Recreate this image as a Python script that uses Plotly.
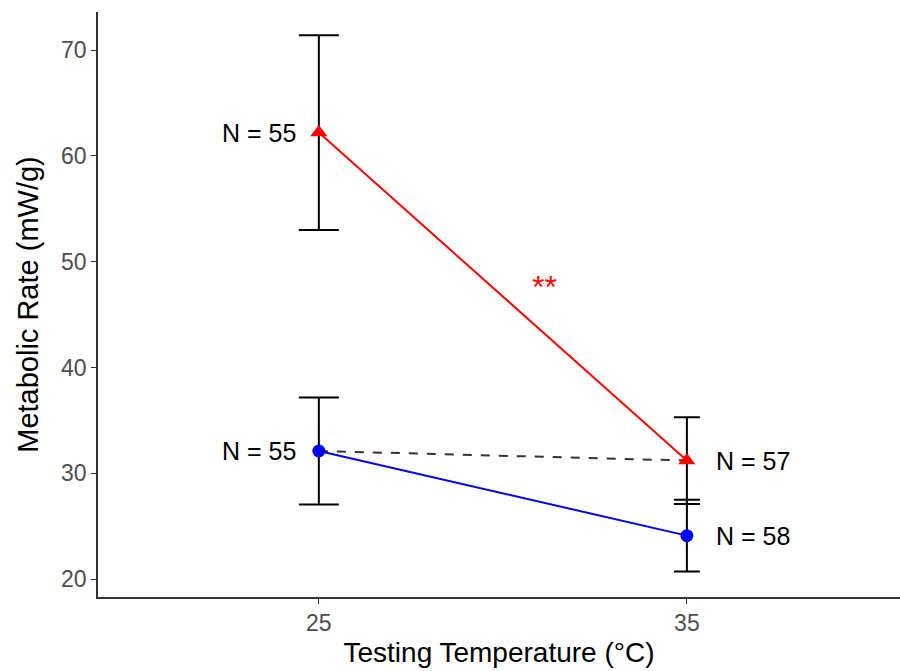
import plotly.graph_objects as go

temps = ["25", "35"]
red_mean = [62.2, 31.2]
red_err = [9.2, 4.1]
blue_mean = [32.1, 24.1]
blue_err = [5.05, 3.4]
red_n = ["N = 55", "N = 57"]
blue_n = ["N = 55", "N = 58"]
cap_half = [20, 13]
sig_label = "**"
sig_pos = (0.614, 47.6)

fig = go.Figure()

# dashed connector: blue at 25 -> red at 35
fig.add_trace(go.Scatter(x=temps, y=[blue_mean[0], red_mean[1]], mode="lines",
                         line=dict(color="#333333", width=2, dash="dash"),
                         showlegend=False, hoverinfo="skip"))

# error bars (per point for cap width)
for i, t in enumerate(temps):
    for mean, err in ((red_mean[i], red_err[i]), (blue_mean[i], blue_err[i])):
        fig.add_trace(go.Scatter(x=[t], y=[mean], mode="markers",
                                 marker=dict(size=0.1, color="rgba(0,0,0,0)"),
                                 error_y=dict(type="data", array=[err], visible=True,
                                              color="black", thickness=2, width=cap_half[i]),
                                 showlegend=False, hoverinfo="skip"))

fig.add_trace(go.Scatter(x=temps, y=red_mean, mode="lines+markers",
                         line=dict(color="#ff0000", width=2),
                         marker=dict(symbol="triangle-up", size=15, color="#ff0000"),
                         showlegend=False))
fig.add_trace(go.Scatter(x=temps, y=blue_mean, mode="lines+markers",
                         line=dict(color="#0000ff", width=2),
                         marker=dict(symbol="circle", size=13, color="#0000ff"),
                         showlegend=False))

font_txt = dict(family="Liberation Sans, Arial, sans-serif", size=25, color="black")
for means, labels in ((red_mean, red_n), (blue_mean, blue_n)):
    fig.add_annotation(x=0, y=means[0], text=labels[0], showarrow=False,
                       xanchor="right", xshift=-21, font=font_txt)
    fig.add_annotation(x=1, y=means[1], text=labels[1], showarrow=False,
                       xanchor="left", xshift=27, font=font_txt)
fig.add_annotation(x=sig_pos[0], y=sig_pos[1], text=sig_label, showarrow=False,
                   font=dict(family="Liberation Sans, Arial", size=32, color="#ff0000"))

fig.update_layout(
    width=900, height=671,
    margin=dict(l=98, r=0, t=12, b=74),
    plot_bgcolor="white", paper_bgcolor="white",
    font=dict(family="Liberation Sans, Arial, sans-serif"),
    xaxis=dict(type="category", range=[-0.6, 1.579], showgrid=False, zeroline=False,
               showline=True, linecolor="#333333", linewidth=1.5,
               ticks="outside", ticklen=5, tickcolor="#333333",
               tickfont=dict(size=23, color="#4d4d4d"),
               title=dict(text="Testing Temperature (°C)", font=dict(size=28, color="black"), standoff=7)),
    yaxis=dict(range=[18.3, 73.6], showgrid=False, zeroline=False,
               showline=True, linecolor="#333333", linewidth=1.5,
               ticks="outside", ticklen=5, tickcolor="#333333",
               tickvals=[20, 30, 40, 50, 60, 70],
               tickfont=dict(size=23, color="#4d4d4d"),
               title=dict(text="Metabolic Rate (mW/g)", font=dict(size=29, color="black"), standoff=14)),
)

fig.write_html("out.html")
